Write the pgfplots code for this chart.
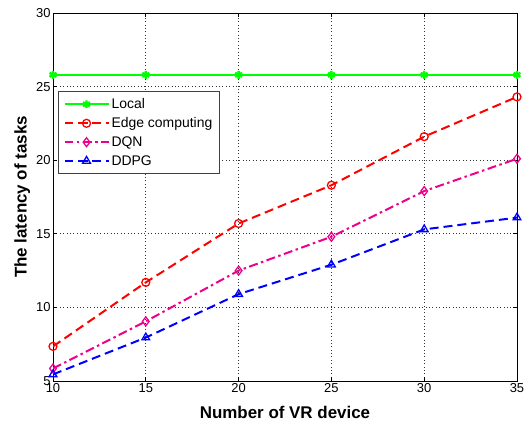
\documentclass[border=0pt]{standalone}
\usepackage{fontspec}
\setmainfont{Liberation Sans}
\usepackage{pgfplots}
\pgfplotsset{compat=1.18}
\begin{document}
\begin{tikzpicture}[x=1bp,y=1bp]
\begin{axis}[
  scale only axis,
  width=464bp, height=368bp,
  xmin=10, xmax=35, ymin=5, ymax=30,
  xtick={10,15,20,25,30,35},
  ytick={5,10,15,20,25,30},
  grid=major,
  major grid style={black!80, dash pattern=on 0.8pt off 2.6pt, line width=0.7pt},
  axis line style={black, line width=0.9pt},
  tick style={black, line width=0.8pt},
  tick align=inside,
  major tick length=4bp,
  xtick pos=both, ytick pos=both,
  /pgf/number format/assume math mode=true,
  ticklabel style={font=\fontsize{13}{15}\selectfont},
  xticklabel style={yshift=1bp},
  yticklabel style={xshift=1bp},
  xlabel={\textbf{Number of VR device}},
  ylabel={\textbf{The latency of tasks}},
  label style={font=\fontsize{17}{19}\selectfont},
  xlabel style={yshift=-7bp},
  ylabel style={yshift=-1bp},
  legend cell align=left,
  legend style={at={(0.011,0.788)}, anchor=north west,
    font=\fontsize{14}{17}\selectfont, draw=black!75, line width=0.9pt,
    row sep=3.5pt, inner xsep=5pt, inner ysep=5pt,
    nodes={inner xsep=2pt}},
  legend image code/.code={
    \draw[mark repeat=2,mark phase=2] plot coordinates {(0bp,0bp) (22bp,0bp) (44bp,0bp)};},
]
\coordinate (lo) at (rel axis cs:0,0);
\coordinate (hi) at (rel axis cs:1,1);
\addplot[color=green, line width=2pt, mark=asterisk, mark size=4pt, mark options={solid, line width=2.4pt}]
  coordinates {(10,25.8) (15,25.8) (20,25.8) (25,25.8) (30,25.8) (35,25.8)};
\addlegendentry{Local}
\addplot[color=red, line width=2pt, dash pattern=on 9pt off 5pt, mark=o, mark size=4pt, mark options={solid, line width=1.3pt}]
  coordinates {(10,7.35) (15,11.7) (20,15.7) (25,18.3) (30,21.6) (35,24.3)};
\addlegendentry{Edge computing}
\addplot[color=magenta, line width=2pt, dash pattern=on 9pt off 3.5pt on 2.5pt off 3.5pt, mark=diamond, mark size=4.5pt, mark options={solid, line width=1.3pt}]
  coordinates {(10,5.85) (15,9.05) (20,12.5) (25,14.8) (30,17.9) (35,20.1)};
\addlegendentry{DQN}
\addplot[color=blue, line width=2pt, dash pattern=on 9pt off 5pt, mark=triangle, mark size=4.5pt, mark options={solid, line width=1.3pt}]
  coordinates {(10,5.45) (15,7.95) (20,10.9) (25,12.9) (30,15.3) (35,16.1)};
\addlegendentry{DDPG}
\end{axis}
\pgfresetboundingbox
\useasboundingbox ([shift={(-53bp,-43bp)}]lo) rectangle ([shift={(11bp,13bp)}]hi);
\end{tikzpicture}
\end{document}
